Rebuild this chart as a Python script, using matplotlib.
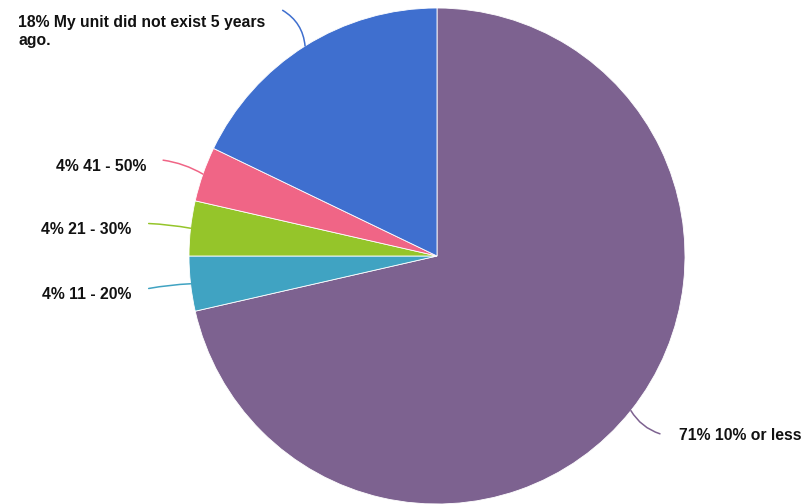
import numpy as np
import matplotlib.pyplot as plt

labels = ["10% or less", "11 - 20%", "21 - 30%", "41 - 50%",
          "My unit did not exist 5 years\nago."]
counts = [20, 1, 1, 1, 5]
colors = ["#7D6290", "#40A3C2", "#95C52A", "#F06586", "#3F6FCF"]

plt.rcParams['font.family'] = ['Liberation Sans', 'DejaVu Sans']

W, H = 809, 504
fig = plt.figure(figsize=(W / 100, H / 100), dpi=100)
ax = fig.add_axes([0, 0, 1, 1])

wedges, _ = ax.pie(counts, colors=colors, startangle=90, counterclock=False,
                   center=(437, H - 256), radius=248, frame=True,
                   wedgeprops=dict(edgecolor='white', linewidth=0.6))
ax.set_xlim(0, W)
ax.set_ylim(0, H)
ax.set_aspect('equal')
ax.axis('off')

total = sum(counts)
for w, lab, c, col in zip(wedges, labels, counts, colors):
    mid = np.deg2rad((w.theta1 + w.theta2) / 2)
    cx, cy = w.center
    right = np.cos(mid) > 0
    reach = 1.15 if right else 1.17
    start = (cx + w.r * np.cos(mid), cy + w.r * np.sin(mid))
    end = (cx + reach * w.r * np.cos(mid), cy + reach * w.r * np.sin(mid))
    # leader bends more where it leaves the pie steeply
    rad = -0.3 * abs(np.sin(mid))
    ax.annotate('', xy=start, xytext=end,
                arrowprops=dict(arrowstyle='-', color=col, lw=1.1,
                                shrinkA=0, shrinkB=0,
                                connectionstyle=f'arc3,rad={rad:.3f}'))
    nlines = lab.count('\n') + 1
    tx = end[0] + 19 if right else end[0] - 17
    ty = end[1] - (2 if right else 6) - (nlines - 1) * 15
    pct = round(100 * c / total)
    ax.text(tx, ty, f"{pct}% {lab}", ha='left' if right else 'right',
            va='center', multialignment='left', fontsize=11.3,
            fontweight='bold', color='#111111', linespacing=1.3)

fig.savefig('out.png', dpi=100)
